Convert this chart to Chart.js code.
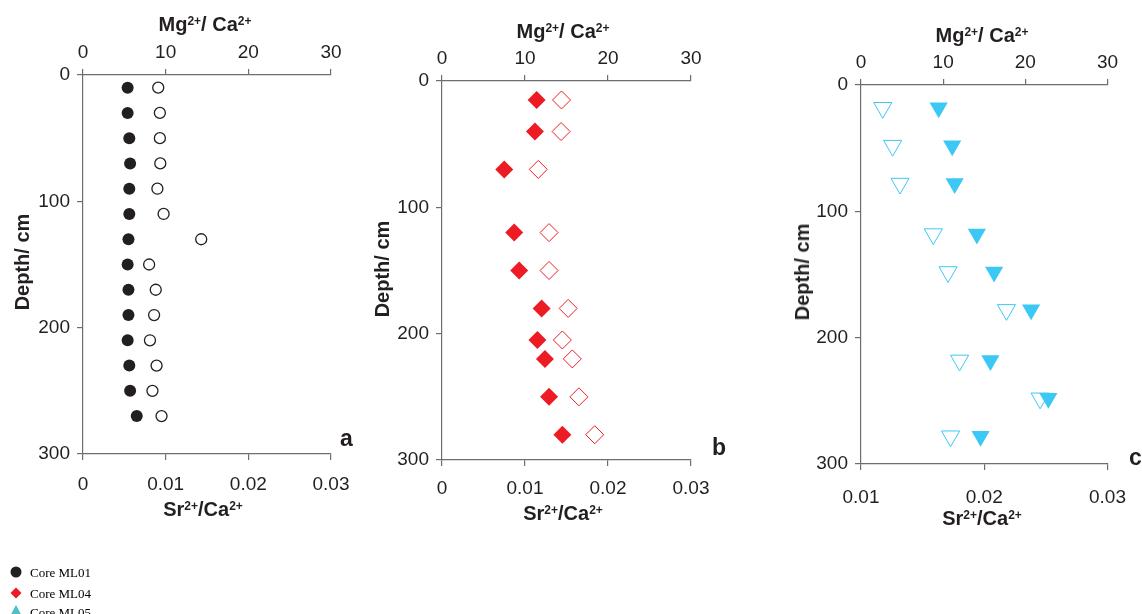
<!DOCTYPE html>
<html lang="en">
<head>
<meta charset="UTF-8">
<title>Mg/Ca and Sr/Ca depth profiles</title>
<script src="https://cdn.jsdelivr.net/npm/chart.js"></script>
<style>
    body {
        margin: 0;
        width: 1142px;
        height: 614px;
        overflow: hidden;
        background: #fff;
        position: relative;
        font-family: "Liberation Sans", Arial, sans-serif;
        color: #231f20;
    }
    canvas { position: absolute; top: 0; }
    .title {
        position: absolute;
        font-weight: bold;
        font-size: 20px;
        line-height: 20px;
        white-space: nowrap;
        transform: translateX(-50%);
    }
    .ylab {
        position: absolute;
        font-weight: bold;
        font-size: 20px;
        line-height: 20px;
        white-space: nowrap;
        transform: translate(-50%, -50%) rotate(-90deg);
    }
    .sup {
        font-size: 0.6em;
        position: relative;
        top: -0.48em;
        line-height: 0;
    }
    .letter {
        position: absolute;
        font-weight: bold;
        font-size: 23px;
        line-height: 23px;
    }
    .legend {
        position: absolute;
        left: 30px;
        font-family: "Liberation Serif", "Times New Roman", serif;
        font-size: 13px;
        line-height: 13px;
        color: #000;
        white-space: nowrap;
    }
    svg.key { position: absolute; left: 0; top: 560px; }
</style>
</head>
<body>

<canvas id="chartA" width="370" height="500" style="left:0px"></canvas>
<canvas id="chartB" width="370" height="510" style="left:380px"></canvas>
<canvas id="chartC" width="352" height="520" style="left:790px"></canvas>

<!-- axis titles -->
<div class="title" style="left:205px; top:14px">Mg<span class="sup">2+</span>/ Ca<span class="sup">2+</span></div>
<div class="title" style="left:203px; top:499px">Sr<span class="sup">2+</span>/Ca<span class="sup">2+</span></div>
<div class="ylab" style="left:22px; top:262px">Depth/ cm</div>

<div class="title" style="left:563px; top:21px">Mg<span class="sup">2+</span>/ Ca<span class="sup">2+</span></div>
<div class="title" style="left:563px; top:503px">Sr<span class="sup">2+</span>/Ca<span class="sup">2+</span></div>
<div class="ylab" style="left:382px; top:269px">Depth/ cm</div>

<div class="title" style="left:982px; top:25px">Mg<span class="sup">2+</span>/ Ca<span class="sup">2+</span></div>
<div class="title" style="left:982px; top:508px">Sr<span class="sup">2+</span>/Ca<span class="sup">2+</span></div>
<div class="ylab" style="left:802px; top:272px">Depth/ cm</div>

<div class="letter" style="left:340px; top:427px">a</div>
<div class="letter" style="left:712px; top:436px">b</div>
<div class="letter" style="left:1129px; top:446px">c</div>

<!-- legend -->
<svg class="key" width="30" height="60">
    <circle cx="16" cy="12" r="5.5" fill="#231f20"></circle>
    <polygon points="10.5,33 16,27.5 21.5,33 16,38.5" fill="#ed1c24"></polygon>
    <polygon points="16,45 22.5,57 9.5,57" fill="#4bc3c6"></polygon>
</svg>
<div class="legend" style="top:566px">Core ML01</div>
<div class="legend" style="top:587px">Core ML04</div>
<div class="legend" style="top:606px">Core ML05</div>

<script>
    // panel a - core ML01
    const depthA = [10, 30, 50, 70, 90, 110, 130, 150, 170, 190, 210, 230, 250, 270];
    const srA = [0.0054, 0.0054, 0.0056, 0.0057, 0.0056, 0.0056, 0.0055, 0.0054, 0.0055, 0.0055, 0.0054, 0.0056, 0.0057, 0.0065];
    const mgA = [9.1, 9.3, 9.3, 9.35, 9.0, 9.75, 14.3, 8.0, 8.8, 8.6, 8.1, 8.9, 8.4, 9.5];

    // panel b - core ML04
    const depthB = [15, 40, 70, 120, 150, 180, 205, 220, 250, 280];
    const srB = [0.0114, 0.0112, 0.0075, 0.0087, 0.0093, 0.0120, 0.0115, 0.0124, 0.0129, 0.0145];
    const mgB = [14.4, 14.35, 11.6, 12.9, 12.9, 15.2, 14.5, 15.7, 16.5, 18.4];

    // panel c - core ML05
    const depthC = [18, 48, 78, 118, 148, 178, 218, 248, 278];
    const srC = [0.0163, 0.0174, 0.0176, 0.0194, 0.0208, 0.0238, 0.0205, 0.0252, 0.0197];
    const mgC = [2.65, 3.85, 4.75, 8.8, 10.6, 17.7, 12.0, 21.8, 10.9];

    const axisColor = '#6d6e71';
    const tickFont = { family: '"Liberation Sans", Arial, sans-serif', size: 19 };

    function pts(xs, ys) {
        return xs.map((v, i) => ({ x: v, y: ys[i] }));
    }

    // marker style; scriptable so every point resolves its own colours
    function marker(style, radius, fill, stroke, width, rotation) {
        return {
            pointStyle: style,
            pointRadius: radius,
            pointHoverRadius: radius,
            pointRotation: rotation || 0,
            pointBackgroundColor: () => fill,
            pointHoverBackgroundColor: () => fill,
            pointBorderColor: () => stroke,
            pointHoverBorderColor: () => stroke,
            pointBorderWidth: width,
            pointHoverBorderWidth: width
        };
    }

    function makePanel(id, box, srMin, filled, open) {
        const grid = { drawOnChartArea: false, color: axisColor, tickColor: axisColor, tickLength: 6, lineWidth: 1.2 };
        const border = { color: axisColor, width: 1.2 };
        new Chart(document.getElementById(id), {
            type: 'scatter',
            data: {
                datasets: [
                    Object.assign({ xAxisID: 'x', yAxisID: 'y', order: 1 }, filled),
                    Object.assign({ xAxisID: 'x2', yAxisID: 'y', order: 0 }, open)
                ]
            },
            options: {
                responsive: false,
                animation: false,
                devicePixelRatio: 1,
                events: [],
                layout: { padding: { left: 0, top: 0, bottom: 0, right: box.right } },
                plugins: { legend: { display: false }, tooltip: { enabled: false } },
                scales: {
                    x: {
                        type: 'linear',
                        position: 'bottom',
                        min: srMin,
                        max: 0.03,
                        afterFit: s => { s.height = box.bottom; },
                        grid: grid,
                        border: border,
                        ticks: {
                            stepSize: 0.01, autoSkip: false, maxRotation: 0, padding: box.pad,
                            color: '#231f20', font: tickFont,
                            callback: v => v === 0 ? '0' : v.toFixed(2)
                        }
                    },
                    x2: {
                        type: 'linear',
                        position: 'top',
                        min: 0,
                        max: 30,
                        afterFit: s => { s.height = box.top; },
                        grid: grid,
                        border: border,
                        ticks: { stepSize: 10, autoSkip: false, maxRotation: 0, padding: 5, color: '#231f20', font: tickFont }
                    },
                    y: {
                        type: 'linear',
                        position: 'left',
                        reverse: true,
                        min: 0,
                        max: 300,
                        afterFit: s => { s.width = box.left; },
                        grid: grid,
                        border: border,
                        ticks: { stepSize: 100, padding: 7, color: '#231f20', font: tickFont }
                    }
                }
            }
        });
    }

    makePanel('chartA', { left: 83, top: 75, bottom: 46, right: 39, pad: 13 }, 0,
        Object.assign({ data: pts(srA, depthA) }, marker('circle', 6, '#231f20', '#231f20', 0)),
        Object.assign({ data: pts(mgA, depthA) }, marker('circle', 5.5, '#ffffff', '#231f20', 1.3)));

    makePanel('chartB', { left: 62, top: 81, bottom: 50, right: 59, pad: 11 }, 0,
        Object.assign({ data: pts(srB, depthB) }, marker('rectRot', 9, '#ed1c24', '#ed1c24', 0)),
        Object.assign({ data: pts(mgB, depthB) }, marker('rectRot', 9, 'rgba(255,255,255,0)', '#ed1c24', 1)));

    makePanel('chartC', { left: 71, top: 85, bottom: 56, right: 32, pad: 16 }, 0.01,
        Object.assign({ data: pts(srC, depthC) }, marker('triangle', 10.5, '#3cc8f4', '#3cc8f4', 0, 180)),
        Object.assign({ data: pts(mgC, depthC) }, marker('triangle', 10.5, 'rgba(255,255,255,0)', '#3cc8f4', 1, 180)));
</script>
</body>
</html>
